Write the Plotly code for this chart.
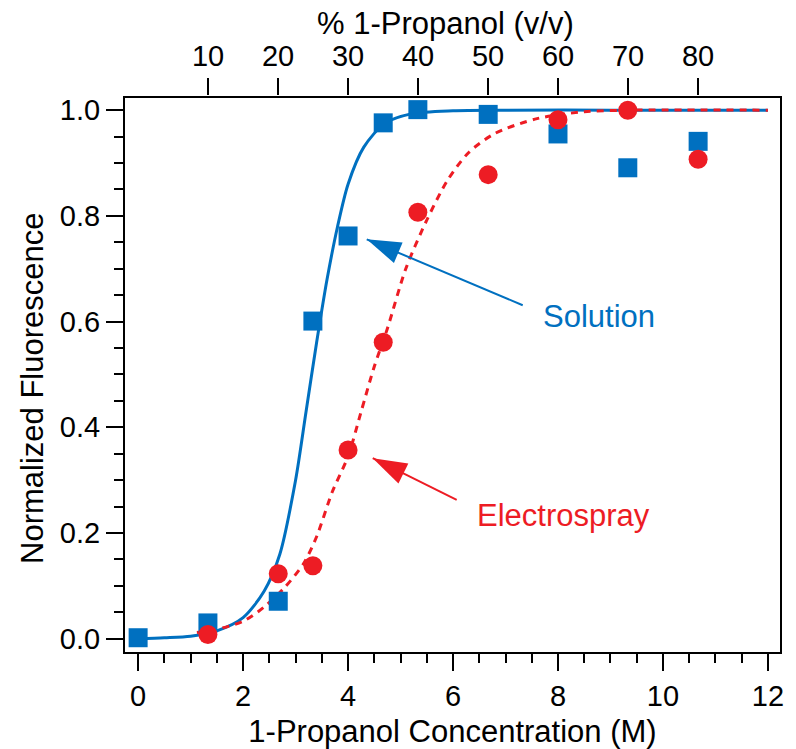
import plotly.graph_objects as go

# ---- data ----
conc_M = [0.0, 1.33, 2.67, 3.33, 4.0, 4.67, 5.33, 6.67, 8.0, 9.33, 10.67]
solution_vals = [0.002, 0.030, 0.071, 0.601, 0.762, 0.976, 1.001, 0.992, 0.955, 0.891, 0.941]

electro_M = [1.33, 2.67, 3.33, 4.0, 4.67, 5.33, 6.67, 8.0, 9.33, 10.67]
electro_vals = [0.008, 0.123, 0.138, 0.357, 0.561, 0.807, 0.878, 0.982, 1.000, 0.907]

# fitted curves
sol_fit_M = [0.0, 0.5, 1.0, 1.5, 2.0, 2.4, 2.7, 3.0, 3.2, 3.4, 3.6, 3.8, 4.0, 4.3, 4.7, 5.2, 6.0, 7.0, 9.0, 12.0]
sol_fit_v = [0.000, 0.002, 0.005, 0.015, 0.040, 0.090, 0.160, 0.300, 0.430, 0.560, 0.680, 0.780, 0.860, 0.930, 0.975, 0.993, 0.999, 1.000, 1.000, 1.000]

es_fit_M = [1.12, 1.5, 2.0, 2.4, 2.8, 3.15, 3.4, 3.7, 4.0, 4.25, 4.5, 4.75, 5.1, 5.5, 5.9, 6.3, 6.8, 7.6, 8.5, 9.4, 12.0]
es_fit_v = [0.012, 0.018, 0.033, 0.060, 0.098, 0.142, 0.193, 0.278, 0.345, 0.430, 0.515, 0.587, 0.700, 0.792, 0.868, 0.920, 0.956, 0.984, 0.997, 1.000, 1.000]

x_ticks = [0, 2, 4, 6, 8, 10, 12]
y_ticks = [0.0, 0.2, 0.4, 0.6, 0.8, 1.0]
pct_ticks = [10, 20, 30, 40, 50, 60, 70, 80]

# callout labels: (text, label x, label y, arrow tail x, tail y, arrow tip x, tip y)
SOL_LABEL = ("Solution", 8.78, 0.609, 7.328, 0.631, 4.356, 0.7556)
ES_LABEL = ("Electrospray", 8.11, 0.2325, 6.070, 0.2628, 4.470, 0.3416)

BLUE = "#0070C0"
RED = "#ED1C24"
FONT = "Liberation Sans, Arial, sans-serif"

fig = go.Figure()

fig.add_trace(go.Scatter(x=sol_fit_M, y=sol_fit_v, mode="lines",
                         line=dict(color=BLUE, width=3, shape="spline", smoothing=0.8),
                         hoverinfo="skip", showlegend=False))
fig.add_trace(go.Scatter(x=es_fit_M, y=es_fit_v, mode="lines",
                         line=dict(color=RED, width=3, dash="7px,6px", shape="spline", smoothing=0.8),
                         hoverinfo="skip", showlegend=False))
fig.add_trace(go.Scatter(x=conc_M, y=solution_vals, mode="markers", name="Solution",
                         marker=dict(symbol="square", size=19, color=BLUE), showlegend=False))
fig.add_trace(go.Scatter(x=electro_M, y=electro_vals, mode="markers", name="Electrospray",
                         marker=dict(symbol="circle", size=19, color=RED), showlegend=False))
# invisible trace to carry the top (% v/v) axis
fig.add_trace(go.Scatter(x=pct_ticks, y=[None] * len(pct_ticks), xaxis="x2", yaxis="y",
                         mode="markers", hoverinfo="skip", showlegend=False))

# callout arrows (line + narrow arrow-head marker oriented along the line)
for (txt, lx, ly, tx, ty, hx, hy), col in ((SOL_LABEL, BLUE), (ES_LABEL, RED)):
    fig.add_trace(go.Scatter(x=[tx, hx], y=[ty, hy], mode="lines",
                             line=dict(color=col, width=2),
                             hoverinfo="skip", showlegend=False))
    fig.add_trace(go.Scatter(x=[tx, hx], y=[ty, hy], mode="markers",
                             marker=dict(symbol="arrow", size=[0, 36], color=col, opacity=1,
                                         angleref="previous", line=dict(width=0, color=col)),
                             hoverinfo="skip", showlegend=False))
    fig.add_annotation(x=lx, y=ly, xref="x", yref="y", text=txt, showarrow=False,
                       font=dict(size=31, color=col, family=FONT))

W, H = 796, 749
mt, mb = 95, 97
plot_h = H - mt - mb
ydom_top = (plot_h - 3) / plot_h

axis_common = dict(showgrid=False, zeroline=False, linecolor="black", linewidth=2,
                   ticks="outside", tickcolor="black", tickwidth=2, ticklen=17, automargin=False,
                   tickfont=dict(size=29, color="black", family=FONT))

fig.update_layout(
    width=W, height=H,
    margin=dict(l=125, r=16, t=mt, b=mb),
    paper_bgcolor="white", plot_bgcolor="white",
    font=dict(family=FONT, color="black"),
    xaxis=dict(axis_common, range=[-0.25, 12.23], tickvals=x_ticks, mirror=True,
               minor=dict(dtick=0.5, ticks="outside", ticklen=9, tickwidth=2, tickcolor="black"),
               title=dict(text="1-Propanol Concentration (M)", font=dict(size=31, color="black"), standoff=17)),
    yaxis=dict(axis_common, range=[-0.025, 1.023], tickvals=y_ticks, tickformat=".1f", mirror=True,
               domain=[0, ydom_top],
               minor=dict(dtick=0.05, ticks="outside", ticklen=9, tickwidth=2, tickcolor="black")),
    xaxis2=dict(overlaying="x", side="top", anchor="free", position=1, automargin=False,
                range=[-1.875, 91.7], tickvals=pct_ticks, showline=False, showgrid=False, zeroline=False,
                ticks="outside", tickcolor="black", tickwidth=2, ticklen=17,
                tickfont=dict(size=29, color="black", family=FONT)),
)

# axis titles placed as text to match the reference positions
fig.add_annotation(x=(445 - 125) / 655, y=(652 - 23) / plot_h, xref="paper", yref="paper",
                   text="% 1-Propanol (v/v)", showarrow=False, xanchor="center", yanchor="middle",
                   font=dict(size=31, color="black", family=FONT))
fig.add_annotation(x=0, y=(652 - 389) / plot_h, xref="paper", yref="paper", xshift=-93,
                   text="Normalized Fluorescence", textangle=-90, showarrow=False,
                   xanchor="center", yanchor="middle", font=dict(size=31, color="black", family=FONT))

fig.write_html("out.html")
